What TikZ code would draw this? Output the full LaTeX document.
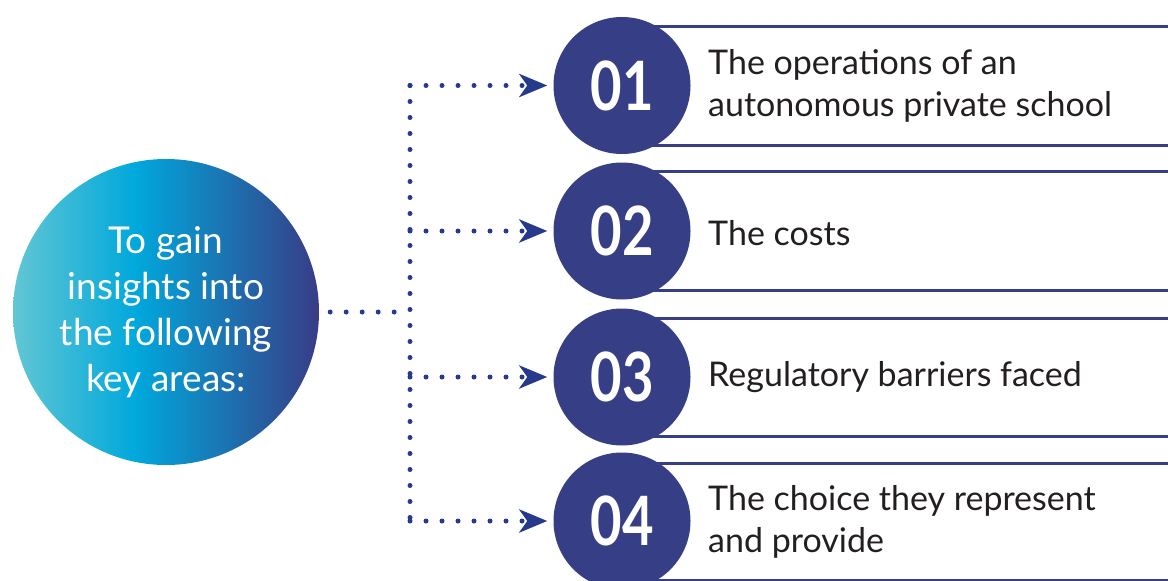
\documentclass[tikz,border=0pt]{standalone}
\usepackage{fontspec}
\setmainfont{Lato}
\usetikzlibrary{arrows.meta}

\definecolor{navy}{RGB}{54,63,133}
\definecolor{dotblue}{RGB}{38,58,140}
\definecolor{ink}{RGB}{35,31,32}
\definecolor{aqua}{RGB}{98,198,212}
\definecolor{cyanmid}{RGB}{0,168,220}
\definecolor{deepblue}{RGB}{56,60,134}

% horizontal gradient of the central circle (path box maps to 25bp..75bp)
\pgfdeclarehorizontalshading{insight}{100bp}{color(0bp)=(aqua); color(25bp)=(aqua); color(45bp)=(cyanmid); color(75bp)=(deepblue); color(100bp)=(deepblue)}

\begin{document}
\begin{tikzpicture}[x=1pt,y=-1pt,
  hub/.style={circle, shading=insight, minimum size=306pt, inner sep=0pt,
    text=white, align=center, font=\fontsize{37}{46}\selectfont},
  numcircle/.style={circle, fill=navy, minimum size=137pt, inner sep=0pt,
    text=white, font=\fontsize{68}{68}\selectfont\bfseries},
  itemtext/.style={anchor=west, text=ink, align=left, inner sep=0pt,
    font=\fontsize{34}{42}\selectfont},
  boxline/.style={navy, line width=3pt},
  dotlink/.style={dotblue, line width=5pt, line cap=round, dash pattern=on 0pt off 16pt},
  arrowlink/.style={dotlink, -{Stealth[length=28pt,width=23pt,inset=8pt]}, shorten >=6pt}
]
\useasboundingbox (0,0) rectangle (1168,581);

% frame lines of the four item boxes
\foreach \t/\b in {26/145, 171/290, 318/436, 463/580}{
  \draw[boxline] (622,\t) -- (1168,\t);
  \draw[boxline] (622,\b) -- (1168,\b);
}

% central circle
\node[hub] (hub) at (166,312) {To gain\\insights into\\the following\\key areas:};

% numbered circles
\node[numcircle] (n1) at (622,85.5) {\scalebox{0.8}[1]{01}};
\node[numcircle] (n2) at (622,231) {\scalebox{0.8}[1]{02}};
\node[numcircle] (n3) at (622,377) {\scalebox{0.8}[1]{03}};
\node[numcircle] (n4) at (622,521) {\scalebox{0.8}[1]{04}};

% item texts
\node[itemtext] (t1) at (708,85.5) {The operations of an\\autonomous private school};
\node[itemtext] (t2) at (708,233) {The costs};
\node[itemtext] (t3) at (708,377) {Regulatory barriers faced};
\node[itemtext] (t4) at (708,522) {The choice they represent\\and provide};

% dotted connectors
\coordinate (j0) at (410,312);
\coordinate (j1) at (410,85.5);
\coordinate (j2) at (410,231);
\coordinate (j3) at (410,377);
\coordinate (j4) at (410,521);

\draw[dotlink, shorten <=11pt] (hub.east) -- (j0);
\draw[dotlink] (j1) -- (j4);
\draw[arrowlink] (j1) -- (n1.west);
\draw[arrowlink] (j2) -- (n2.west);
\draw[arrowlink] (j3) -- (n3.west);
\draw[arrowlink] (j4) -- (n4.west);
\end{tikzpicture}
\end{document}
